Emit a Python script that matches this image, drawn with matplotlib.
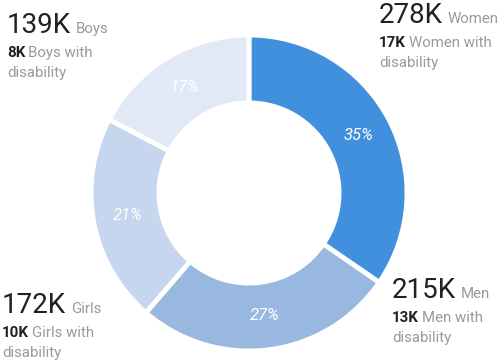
import matplotlib.pyplot as plt

groups = ['Women', 'Men', 'Girls', 'Boys']
totals = [278, 215, 172, 139]          # thousands
with_disability = [17, 13, 10, 8]      # thousands
colors = ['#4190de', '#99b8e0', '#c6d6ef', '#e1e9f6']

# where each label block sits (left x, baseline y of the big number), in pixels from top-left
label_pos = {'Women': (379, 23), 'Men': (392, 298), 'Girls': (2, 313), 'Boys': (7, 33)}

plt.rcParams['font.family'] = ['Roboto', 'DejaVu Sans']

W, H = 501, 363
fig = plt.figure(figsize=(W / 100, H / 100), dpi=100)

# donut centred at (249, 193) px, outer radius ~158 px
cx, cy, R = 249, 193, 158
ax = fig.add_axes([(cx - R) / W, (H - cy - R) / H, 2 * R / W, 2 * R / H])
wedges, texts, autotexts = ax.pie(
    totals, colors=colors, startangle=90, counterclock=False,
    autopct='%1.0f%%', pctdistance=0.78,
    wedgeprops=dict(width=0.43, edgecolor='white', linewidth=3.5),
    textprops=dict(color='white', fontsize=12, style='italic'))
ax.set_xlim(-1, 1)
ax.set_ylim(-1, 1)

renderer = fig.canvas.get_renderer()
dark = '#212121'
grey = '#9a9a9a'


def put_line(x, y, parts):
    for s, size, weight, color, gap in parts:
        t = fig.text(x / W, 1 - y / H, s, fontsize=size, fontweight=weight,
                     color=color, ha='left', va='baseline')
        bb = t.get_window_extent(renderer)
        x = bb.x1 + gap


for g, tot, dis in zip(groups, totals, with_disability):
    x, y = label_pos[g]
    put_line(x, y, [(f'{tot}K', 20, 'normal', dark, 5),
                    (g, 10.8, 'normal', grey, 0)])
    put_line(x, y + 24, [(f'{dis}K', 10.8, 'bold', dark, 3),
                         (f'{g} with', 10.8, 'normal', grey, 0)])
    put_line(x, y + 44, [('disability', 10.8, 'normal', grey, 0)])

fig.savefig('out.png', dpi=100)
